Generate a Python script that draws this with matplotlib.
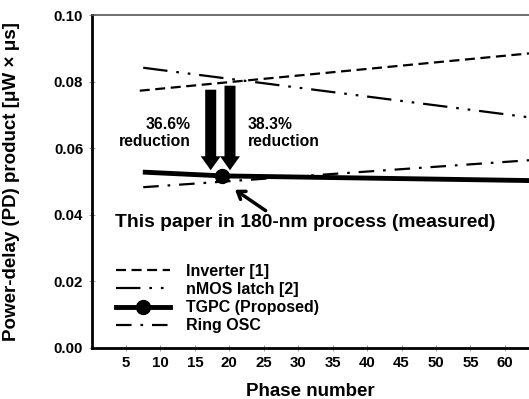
import matplotlib
matplotlib.use("Agg")
import matplotlib.pyplot as plt
from matplotlib.patches import FancyArrow

plt.rcParams['font.family'] = ['Liberation Sans', 'DejaVu Sans']
plt.rcParams['font.weight'] = 'bold'

# values
inv_x = [7.0, 63.5]
inv_y = [0.0773, 0.0885]
nmos_x = [7.5, 63.5]
nmos_y = [0.0842, 0.0693]
tgpc_x = [7.8, 19.0, 63.5]
tgpc_y = [0.0528, 0.0517, 0.0503]
ring_x = [7.5, 63.5]
ring_y = [0.0483, 0.0564]
xticks = [5, 10, 15, 20, 25, 30, 35, 40, 45, 50, 55, 60]
yticks = [0.00, 0.02, 0.04, 0.06, 0.08, 0.10]

fig = plt.figure(figsize=(5.29, 3.99), dpi=100)
ax = fig.add_axes([0.173, 0.128, 0.827, 0.834])

ax.plot(inv_x, inv_y, color='k', lw=1.6, ls=(0, (4.5, 2.5)), label='Inverter [1]')
ax.plot(nmos_x, nmos_y, color='k', lw=1.6, ls=(0, (11, 4, 1.2, 4, 1.2, 4)), label='nMOS latch [2]')
ax.plot(tgpc_x, tgpc_y, color='k', lw=3.5, marker='o', markevery=[1], ms=10,
        label='TGPC (Proposed)', zorder=5)
ax.plot(ring_x, ring_y, color='k', lw=1.6, ls=(0, (7, 4, 1.2, 4)), label='Ring OSC')

# reduction arrows
ax.add_patch(FancyArrow(17.3, 0.0776, 0, 0.0534 - 0.0776, width=1.6, head_width=2.9,
                        head_length=0.0042, length_includes_head=True, color='k', lw=0))
ax.add_patch(FancyArrow(20.1, 0.0788, 0, 0.0534 - 0.0788, width=1.6, head_width=2.9,
                        head_length=0.0042, length_includes_head=True, color='k', lw=0))
ax.text(14.4, 0.0646, '36.6%\nreduction', ha='right', va='center', fontsize=11.3,
        fontweight='bold', linespacing=1.2)
ax.text(22.7, 0.0646, '38.3%\nreduction', ha='left', va='center', fontsize=11.3,
        fontweight='bold', linespacing=1.2)

ax.annotate('', xy=(20.5, 0.0480), xytext=(25.6, 0.0408),
            arrowprops=dict(arrowstyle='->,head_length=0.5,head_width=0.35', lw=2.5, color='k'))
ax.text(3.4, 0.0378, 'This paper in 180-nm process (measured)', ha='left', va='center',
        fontsize=13.9, fontweight='bold')

ax.set_xlim(0, 63.5)
ax.set_ylim(0, 0.10)
ax.set_xticks(xticks)
ax.set_yticks(yticks)
ax.set_yticklabels([f'{v:.2f}' for v in yticks])
ax.tick_params(axis='both', labelsize=10.8, direction='inout', length=4, width=0.6,
               color='#888888', pad=4)
for lab in ax.get_xticklabels() + ax.get_yticklabels():
    lab.set_fontweight('bold')

ax.spines['right'].set_visible(False)
ax.spines['left'].set_linewidth(2)
ax.spines['bottom'].set_linewidth(2)
ax.spines['top'].set_linewidth(1.2)
ax.spines['top'].set_color('#555555')

ax.set_xlabel('Phase number', fontsize=13.5, fontweight='bold')
ax.xaxis.set_label_coords(0.5, -0.104)
ax.set_ylabel('Power-delay (PD) product [μW × μs]', fontsize=13.5, fontweight='bold')
ax.yaxis.set_label_coords(-0.163, 0.5)

leg = ax.legend(loc='lower left', bbox_to_anchor=(0.03, 0.01), frameon=False, fontsize=11.5,
                handlelength=3.4, handletextpad=1.0, labelspacing=0.2, borderaxespad=0.3)
for t in leg.get_texts():
    t.set_fontweight('bold')

fig.savefig('out.png', dpi=100)
